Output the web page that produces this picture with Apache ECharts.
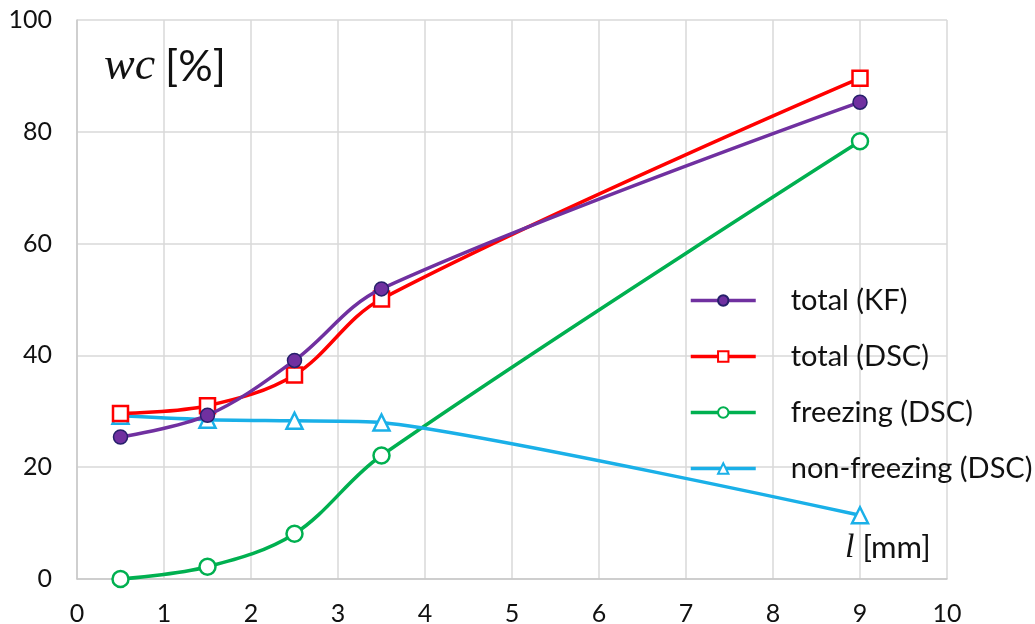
<!DOCTYPE html>
<html><head><meta charset="utf-8">
<script src="https://cdn.jsdelivr.net/npm/echarts@6/dist/echarts.min.js"></script>
<style>html,body{margin:0;padding:0;background:#fff}#c{width:1035px;height:624px}</style>
</head><body><div id="c"></div>
<script>
const xValues = [0.5, 1.5, 2.5, 3.5, 9];
const totalKF = [25.4, 29.3, 39.1, 51.9, 85.3];
const totalDSC = [29.6, 31.0, 36.5, 50.1, 89.6];
const freezingDSC = [0, 2.2, 8.1, 22.1, 78.3];
const nonFreezingDSC = [29.2, 28.5, 28.3, 28.0, 11.4];
const seriesNames = ['total (KF)', 'total (DSC)', 'freezing (DSC)', 'non-freezing (DSC)'];
const xTicks = [0,1,2,3,4,5,6,7,8,9,10];
const yTicks = [0,20,40,60,80,100];

const FONT = 'Lato';
function pts(ys){ return xValues.map((x,i)=>[x, ys[i]]); }

const chart = echarts.init(document.getElementById('c'));
chart.setOption({
  animation:false,
  grid:{left:77, right:88, top:20, bottom:45, outerBoundsMode:'none', containLabel:false},
  xAxis:{type:'value', min:0, max:10, interval:1,
    axisLine:{show:true, lineStyle:{color:'#c8c8c8', width:1.5}},
    axisTick:{show:false},
    splitLine:{show:true, lineStyle:{color:'#d9d9d9', width:1.5}},
    axisLabel:{color:'#111', fontFamily:FONT, fontSize:25, margin:22}},
  yAxis:{type:'value', min:0, max:100, interval:20,
    axisLine:{show:true, lineStyle:{color:'#c8c8c8', width:1.5}},
    axisTick:{show:false},
    splitLine:{show:true, lineStyle:{color:'#d9d9d9', width:1.5}},
    axisLabel:{color:'#111', fontFamily:FONT, fontSize:25, margin:25}},
  legend:{orient:'vertical', left:684, top:280, itemWidth:65, itemHeight:13, itemGap:25,
    lineStyle:{width:3.5},
    textStyle:{fontFamily:FONT, fontSize:29, lineHeight:31, color:'#111', padding:[0,0,0,30]},
    data:seriesNames},
  graphic:[
    {type:'text', left:104, top:44, style:{
      rich:{i:{fontFamily:'Liberation Serif', fontStyle:'italic', fontSize:46, fill:'#111'},
            n:{fontFamily:FONT, fontSize:43, fill:'#111', padding:[0,0,0,10]}},
      text:'{i|wc}{n|[%]}'}},
    {type:'text', left:845, top:531, style:{
      rich:{i:{fontFamily:'Liberation Serif', fontStyle:'italic', fontSize:34, fill:'#111'},
            n:{fontFamily:FONT, fontSize:31, fill:'#111', padding:[0,0,0,8]}},
      text:'{i|l}{n|[mm]}'}}
  ],
  series:[
    {name:seriesNames[0], type:'line', data:pts(totalKF), smooth:0.35,
     symbol:'circle', symbolSize:14, lineStyle:{color:'#7030a0', width:3.5},
     itemStyle:{color:'#7030a0', borderColor:'#26206b', borderWidth:1.5}, z:5},
    {name:seriesNames[1], type:'line', data:pts(totalDSC), smooth:0.35,
     symbol:'rect', symbolSize:15, lineStyle:{color:'#ff0000', width:3.5},
     itemStyle:{color:'#fff', borderColor:'#ff0000', borderWidth:2.5}, z:4},
    {name:seriesNames[2], type:'line', data:pts(freezingDSC), smooth:0.35,
     symbol:'circle', symbolSize:16, lineStyle:{color:'#00b050', width:3.5},
     itemStyle:{color:'#fff', borderColor:'#00b050', borderWidth:2.5}, z:3},
    {name:seriesNames[3], type:'line', data:pts(nonFreezingDSC), smooth:0.2,
     symbol:'triangle', symbolSize:16, lineStyle:{color:'#1ab0e8', width:3.5},
     itemStyle:{color:'#fff', borderColor:'#1ab0e8', borderWidth:2.5}, z:3}
  ]
});
</script></body></html>
